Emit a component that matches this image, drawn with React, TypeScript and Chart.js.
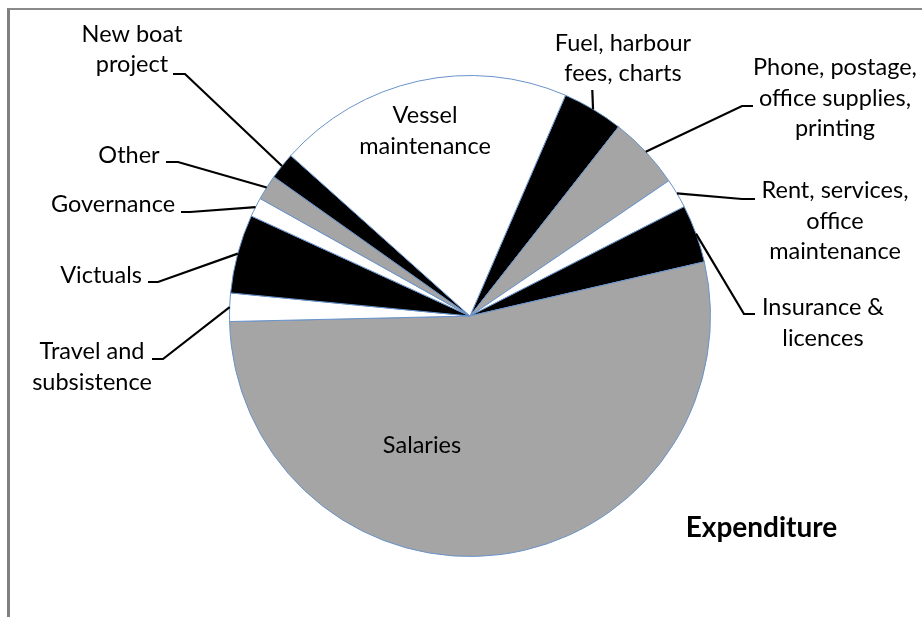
import React, { useEffect, useRef } from "react";
import { Chart, registerables } from "chart.js";

Chart.register(...registerables);

// ---- data ----
const categories: string[] = [
  "Fuel, harbour fees, charts",
  "Phone, postage, office supplies, printing",
  "Rent, services, office maintenance",
  "Insurance & licences",
  "Salaries",
  "Travel and subsistence",
  "Victuals",
  "Governance",
  "Other",
  "New boat project",
  "Vessel maintenance",
];
const expenditure: number[] = [4.1, 4.9, 2.0, 3.9, 53.3, 1.9, 5.3, 1.3, 1.7, 1.8, 19.9];
const labelLines: string[][] = [
  ["Fuel, harbour", "fees, charts"],
  ["Phone, postage,", "office supplies,", "printing"],
  ["Rent, services,", "office", "maintenance"],
  ["Insurance &", "licences"],
  ["Salaries"],
  ["Travel and", "subsistence"],
  ["Victuals"],
  ["Governance"],
  ["Other"],
  ["New boat", "project"],
  ["Vessel", "maintenance"],
];
const chartTitle = "Expenditure";

// ---- styles / layout (offsets relative to pie centre) ----
const WHITE = "#ffffff";
const BLACK = "#000000";
const GREY = "#a5a5a5";
const sliceColors = [BLACK, GREY, WHITE, BLACK, GREY, WHITE, BLACK, WHITE, GREY, BLACK, WHITE];

type LabelLayout = { tx: number; ty: number; pts: number[][] | null };
const labelLayout: LabelLayout[] = [
  { tx: 153, ty: -265.3, pts: [[122.3, -226]] },
  { tx: 365, ty: -241, pts: [[283, -210], [272, -210]] },
  { tx: 365, ty: -117.7, pts: [[285, -117], [272, -117]] },
  { tx: 353, ty: -1, pts: [[285, -2], [274, -2]] },
  { tx: -48, ty: 137.3, pts: null },
  { tx: -378, ty: 43.3, pts: [[-318, 43], [-307, 43]] },
  { tx: -369, ty: -33, pts: [[-322, -34], [-312, -34]] },
  { tx: -357, ty: -104.3, pts: [[-289, -104], [-280, -104]] },
  { tx: -341, ty: -153.3, pts: [[-304, -154], [-292, -154]] },
  { tx: -338, ty: -274.3, pts: [[-297, -242], [-285, -242]] },
  { tx: -45, ty: -192.7, pts: null },
];
const FONT = "23.5px Lato";
const LINE_H = 30.5;

const labelPlugin = {
  id: "pieLabels",
  afterDraw(chart: any) {
    const ctx = chart.ctx as CanvasRenderingContext2D;
    const meta = chart.getDatasetMeta(0);
    ctx.save();
    meta.data.forEach((arc: any, i: number) => {
      const lay = labelLayout[i];
      const cx = arc.x;
      const cy = arc.y;
      if (lay.pts) {
        const mid = (arc.startAngle + arc.endAngle) / 2;
        const ex = cx + Math.cos(mid) * arc.outerRadius;
        const ey = cy + Math.sin(mid) * arc.outerRadius;
        ctx.beginPath();
        ctx.strokeStyle = "#000";
        ctx.lineWidth = 2.2;
        ctx.lineJoin = "miter";
        lay.pts.forEach((p, k) => {
          if (k === 0) ctx.moveTo(cx + p[0], cy + p[1]);
          else ctx.lineTo(cx + p[0], cy + p[1]);
        });
        ctx.lineTo(ex, ey);
        ctx.stroke();
      }
      ctx.fillStyle = "#000";
      ctx.font = FONT;
      ctx.textAlign = "center";
      ctx.textBaseline = "alphabetic";
      labelLines[i].forEach((line, k) => {
        ctx.fillText(line, cx + lay.tx, cy + lay.ty + k * LINE_H);
      });
    });
    // title
    const c0 = meta.data[0];
    ctx.font = "bold 28px Lato";
    ctx.textAlign = "center";
    ctx.fillText(chartTitle, c0.x + 291.5, c0.y + 221);
    ctx.restore();
  },
};

export default function App() {
  const ref = useRef<HTMLCanvasElement | null>(null);
  useEffect(() => {
    document.body.style.margin = "0";
    if (!ref.current) return;
    const chart = new Chart(ref.current, {
      type: "pie",
      data: {
        labels: categories,
        datasets: [
          {
            data: expenditure,
            backgroundColor: sliceColors,
            borderColor: "#6a93c9",
            borderWidth: 1,
          },
        ],
      },
      options: {
        responsive: false,
        animation: false,
        rotation: 23.4,
        layout: { padding: { left: 229, right: 211, top: 75, bottom: 60 } },
        plugins: {
          legend: { display: false },
          tooltip: { enabled: false },
        },
      },
      plugins: [labelPlugin],
    });
    return () => chart.destroy();
  }, []);
  return (
    <div style={{ position: "relative", width: 922, height: 617, background: "#fff" }}>
      <div
        style={{
          position: "absolute",
          left: 7,
          top: 8,
          width: 915,
          height: 609,
          borderLeft: "3px solid #808080",
          borderTop: "2px solid #8a8a8a",
          boxSizing: "border-box",
        }}
      />
      <canvas ref={ref} width={922} height={617} style={{ position: "absolute", left: 0, top: 0 }} />
    </div>
  );
}
